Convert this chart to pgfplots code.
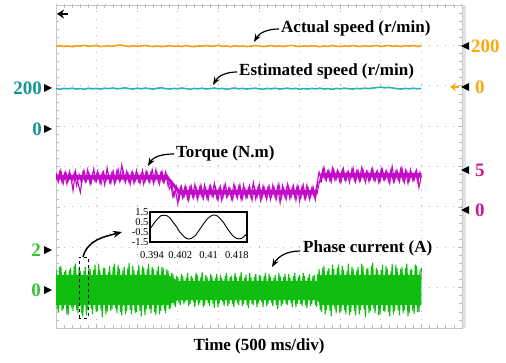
\documentclass[border=0pt]{standalone}
\usepackage{pgfplots}
\pgfplotsset{compat=1.18}
\usepackage{fontspec}
\setmainfont{Liberation Serif}
\usetikzlibrary{arrows.meta}
\definecolor{orT}{RGB}{245,160,20}
\definecolor{orL}{RGB}{250,170,10}
\definecolor{teT}{RGB}{40,180,180}
\definecolor{teL}{RGB}{20,150,150}
\definecolor{maT}{RGB}{195,10,200}
\definecolor{maL}{RGB}{215,20,145}
\definecolor{grT}{RGB}{15,190,15}
\definecolor{grL}{RGB}{55,195,55}
\begin{document}
\begin{tikzpicture}[x=1pt,y=1pt]
\path[use as bounding box] (0,0) rectangle (506,362);
\pgfplotsset{chan/.style={at={(56pt,34pt)},anchor=south west,scale only axis,
  width=406pt,height=323pt,xmin=0,xmax=5,axis lines=none,ticks=none}}
% ---- frame and grid
\begin{axis}[at={(56pt,34pt)},anchor=south west,scale only axis,width=406pt,height=323pt,
  xmin=0,xmax=5,ymin=0,ymax=8,
  xtick={0,0.5,...,5},ytick={0,1,...,8},minor x tick num=4,minor y tick num=4,
  xticklabels={},yticklabels={},
  axis line style={gray!45,line width=0.8pt},
  grid=major,major grid style={gray!55,line width=1pt,dash pattern=on 1pt off 7.1pt},
  tick align=inside,major tick length=4pt,minor tick length=3pt,
  every tick/.style={gray!55,line width=0.6pt}]
\end{axis}
\draw[gray!22,line width=3pt] (464,34)--(464,357);
% ---- actual speed
\begin{axis}[chan,ymin=-1196.2,ymax=403.8]
\addplot[orT,line width=1.6pt] coordinates {
(0,199)(0.05,202)(0.1,198)(0.15,201)(0.2,197)(0.25,202)(0.3,200)(0.35,204)(0.4,199)(0.45,201)
(0.5,203)(0.55,198)(0.6,200)(0.65,202)(0.7,199)(0.75,204)(0.8,205)(0.85,201)(0.9,198)(0.95,202)
(1.0,199)(1.05,201)(1.1,203)(1.15,200)(1.2,198)(1.25,201)(1.3,197)(1.35,200)(1.4,202)(1.45,199)
(1.5,201)(1.55,198)(1.6,203)(1.65,199)(1.7,197)(1.75,201)(1.8,200)(1.85,203)(1.9,199)(1.95,201)
(2.0,204)(2.05,199)(2.1,201)(2.15,197)(2.2,202)(2.25,199)(2.3,201)(2.35,198)(2.4,200)(2.45,203)
(2.5,201)(2.55,198)(2.6,200)(2.65,203)(2.7,199)(2.75,201)(2.8,198)(2.85,202)(2.9,204)(2.95,200)
(3.0,198)(3.05,201)(3.1,199)(3.15,202)(3.2,200)(3.25,197)(3.3,201)(3.35,199)(3.4,203)(3.45,200)
(3.5,198)(3.55,201)(3.6,199)(3.65,203)(3.7,200)(3.75,198)(3.8,202)(3.85,199)(3.9,201)(3.95,203)
(4.0,198)(4.05,201)(4.1,203)(4.15,199)(4.2,201)(4.25,198)(4.3,202)(4.35,200)(4.4,203)(4.45,199)
(4.5,201)};
\end{axis}
% ---- estimated speed
\begin{axis}[chan,ymin=-985.8,ymax=614.2]
\addplot[teT,line width=1.6pt] coordinates {
(0,200)(0.05,197)(0.1,201)(0.15,199)(0.2,202)(0.25,198)(0.3,200)(0.35,197)(0.4,202)(0.45,199)
(0.5,201)(0.55,198)(0.6,202)(0.65,200)(0.7,203)(0.75,199)(0.8,201)(0.85,204)(0.9,200)(0.95,198)
(1.0,202)(1.05,199)(1.1,203)(1.15,200)(1.2,198)(1.25,202)(1.3,204)(1.35,200)(1.4,198)(1.45,201)
(1.5,199)(1.55,203)(1.6,200)(1.65,197)(1.7,201)(1.75,199)(1.8,202)(1.85,198)(1.9,200)(1.95,203)
(2.0,199)(2.05,201)(2.1,197)(2.15,200)(2.2,203)(2.25,199)(2.3,201)(2.35,198)(2.4,200)(2.45,202)
(2.5,199)(2.55,197)(2.6,201)(2.65,199)(2.7,202)(2.75,198)(2.8,200)(2.85,202)(2.9,199)(2.95,201)
(3.0,197)(3.05,200)(3.1,198)(3.15,201)(3.2,199)(3.25,202)(3.3,198)(3.35,200)(3.4,197)(3.45,201)
(3.5,199)(3.55,202)(3.6,200)(3.65,198)(3.7,201)(3.75,199)(3.8,202)(3.85,200)(3.9,203)(3.95,205)
(4.0,207)(4.05,204)(4.1,206)(4.15,203)(4.2,200)(4.25,198)(4.3,201)(4.35,199)(4.4,202)(4.45,199)
(4.5,201)};
\end{axis}
% ---- torque
\begin{axis}[chan,ymin=-14.61,ymax=25.39]
\addplot[maT,fill=maT,draw=none] coordinates {
(0,4.35)(1.37,4.35)(1.52,2.5)(3.22,2.5)(3.26,4.6)(4.5,4.6)
(4.5,4.0)(3.26,4.0)(3.22,1.9)(1.52,1.9)(1.37,3.75)(0,3.75)} -- cycle;
\addplot[maT,line width=1.1pt] coordinates {
(0,4.6)(0.03,3.5)(0.06,4.9)(0.09,3.3)(0.12,4.7)(0.15,3.6)(0.18,4.4)(0.21,2.4)(0.24,4.8)(0.27,3.4)
(0.30,2.2)(0.33,4.6)(0.36,3.5)(0.39,5.0)(0.42,3.2)(0.45,4.5)(0.48,3.6)(0.51,4.8)(0.54,3.4)(0.57,4.6)
(0.60,3.1)(0.63,5.2)(0.66,3.5)(0.69,4.7)(0.72,3.3)(0.75,4.9)(0.78,3.6)(0.81,5.6)(0.84,3.7)(0.87,4.8)
(0.90,3.4)(0.93,4.6)(0.96,3.3)(0.99,4.9)(1.02,3.5)(1.05,4.5)(1.08,3.2)(1.11,4.8)(1.14,3.6)(1.17,4.7)
(1.20,3.3)(1.23,5.0)(1.26,3.5)(1.29,4.6)(1.32,3.4)(1.35,4.7)(1.38,3.0)(1.41,3.4)(1.44,1.6)(1.47,2.5)
(1.50,0.8)(1.53,2.8)(1.56,1.5)(1.59,3.0)(1.62,1.4)(1.65,2.9)(1.68,1.7)(1.71,3.2)(1.74,1.3)(1.77,2.8)
(1.80,1.6)(1.83,3.1)(1.86,1.4)(1.89,2.9)(1.92,1.8)(1.95,3.3)(1.98,1.5)(2.01,2.7)(2.04,1.2)(2.07,3.0)
(2.10,1.6)(2.13,2.8)(2.16,1.4)(2.19,3.2)(2.22,1.7)(2.25,2.9)(2.28,1.3)(2.31,3.1)(2.34,1.5)(2.37,2.7)
(2.40,1.6)(2.43,3.4)(2.46,1.4)(2.49,2.9)(2.52,1.2)(2.55,3.0)(2.58,1.7)(2.61,2.8)(2.64,1.3)(2.67,3.1)
(2.70,1.5)(2.73,2.9)(2.76,0.9)(2.79,3.0)(2.82,1.6)(2.85,3.2)(2.88,1.4)(2.91,2.8)(2.94,1.6)(2.97,3.0)
(3.00,1.1)(3.03,2.9)(3.06,1.5)(3.09,3.1)(3.12,1.3)(3.15,2.7)(3.18,1.6)(3.21,3.0)(3.24,4.7)(3.27,3.6)
(3.30,5.3)(3.33,3.7)(3.36,4.9)(3.39,3.5)(3.42,5.0)(3.45,3.8)(3.48,4.7)(3.51,3.4)(3.54,5.1)(3.57,3.6)
(3.60,4.8)(3.63,3.9)(3.66,5.2)(3.69,3.5)(3.72,4.9)(3.75,3.7)(3.78,5.0)(3.81,3.4)(3.84,4.7)(3.87,3.8)
(3.90,5.1)(3.93,3.6)(3.96,4.8)(3.99,3.5)(4.02,5.0)(4.05,3.7)(4.08,4.6)(4.11,3.3)(4.14,5.4)(4.17,3.6)
(4.20,4.9)(4.23,3.5)(4.26,5.2)(4.29,3.4)(4.32,4.8)(4.35,3.6)(4.38,4.6)(4.41,3.7)(4.44,4.9)(4.47,2.8)
(4.50,4.3)};
\addplot[maT,line width=1.1pt] coordinates {
(0.015,3.6)(0.045,4.7)(0.075,3.4)(0.105,4.5)(0.135,3.2)(0.165,4.8)(0.195,3.5)(0.225,4.6)(0.255,3.0)(0.285,4.4)
(0.315,3.3)(0.345,4.9)(0.375,3.6)(0.405,4.6)(0.435,3.4)(0.465,5.1)(0.495,3.5)(0.525,4.5)(0.555,3.2)(0.585,4.7)
(0.615,3.6)(0.645,4.4)(0.675,3.3)(0.705,4.8)(0.735,3.5)(0.765,5.0)(0.795,3.7)(0.825,4.9)(0.855,3.4)(0.885,4.6)
(0.915,3.2)(0.945,4.7)(0.975,3.6)(1.005,4.5)(1.035,3.3)(1.065,4.9)(1.095,3.5)(1.125,4.6)(1.155,3.4)(1.185,5.0)
(1.215,3.6)(1.245,4.5)(1.275,3.2)(1.305,4.8)(1.335,3.5)(1.365,4.4)(1.395,2.6)(1.425,3.2)(1.455,1.7)(1.485,2.9)
(1.515,1.3)(1.545,2.9)(1.575,1.6)(1.605,2.7)(1.635,1.2)(1.665,3.0)(1.695,1.5)(1.725,2.8)(1.755,1.7)(1.785,3.1)
(1.815,1.4)(1.845,2.7)(1.875,1.3)(1.905,3.0)(1.935,1.6)(1.965,2.8)(1.995,1.2)(2.025,2.9)(2.055,1.5)(2.085,3.2)
(2.115,1.7)(2.145,2.6)(2.175,1.3)(2.205,2.9)(2.235,1.5)(2.265,3.1)(2.295,1.4)(2.325,2.7)(2.355,1.6)(2.385,3.0)
(2.415,1.2)(2.445,2.8)(2.475,1.6)(2.505,3.1)(2.535,1.4)(2.565,2.7)(2.595,1.3)(2.625,3.0)(2.655,1.7)(2.685,2.8)
(2.715,1.4)(2.745,3.2)(2.775,1.5)(2.805,2.7)(2.835,1.3)(2.865,2.9)(2.895,1.6)(2.925,3.0)(2.955,1.2)(2.985,2.8)
(3.015,1.5)(3.045,3.1)(3.075,1.4)(3.105,2.7)(3.135,1.6)(3.165,2.9)(3.195,1.3)(3.225,3.4)
(3.255,3.5)(3.285,5.0)(3.315,3.8)(3.345,4.8)(3.375,3.6)(3.405,5.2)(3.435,3.7)(3.465,4.9)(3.495,3.5)(3.525,5.0)
(3.555,3.8)(3.585,4.7)(3.615,3.4)(3.645,5.1)(3.675,3.7)(3.705,4.9)(3.735,3.6)(3.765,5.3)(3.795,3.8)(3.825,4.8)
(3.855,3.5)(3.885,5.0)(3.915,3.7)(3.945,4.7)(3.975,3.4)(4.005,5.1)(4.035,3.8)(4.065,4.9)(4.095,3.6)(4.125,5.0)
(4.155,3.5)(4.185,4.8)(4.215,3.7)(4.245,5.1)(4.275,3.6)(4.305,4.9)(4.335,3.3)(4.365,5.0)(4.395,3.6)(4.425,4.7)
(4.455,3.5)(4.485,4.8)};
\end{axis}
% ---- phase current
\begin{axis}[chan,ymin=-1.882,ymax=14.118]
\addplot[grT,fill=grT,draw=none] coordinates {
(0,0.75)(1.38,0.75)(1.5,0.45)(3.22,0.45)(3.26,0.75)(4.5,0.75)
(4.5,-0.75)(3.26,-0.75)(3.22,-0.5)(1.5,-0.5)(1.38,-0.75)(0,-0.75)} -- cycle;
\addplot[grT,line width=1pt] coordinates {
(0,1.05)(0.03,-1.10)(0.06,1.20)(0.09,-0.95)(0.12,1.00)(0.15,-1.25)(0.18,1.10)(0.21,-1.05)(0.24,1.30)(0.27,-1.15)
(0.30,0.95)(0.33,-1.30)(0.36,1.15)(0.39,-1.00)(0.42,1.05)(0.45,-1.20)(0.48,1.25)(0.51,-1.05)(0.54,1.00)(0.57,-1.35)
(0.60,1.10)(0.63,-1.10)(0.66,1.20)(0.69,-0.95)(0.72,1.30)(0.75,-1.15)(0.78,1.05)(0.81,-1.25)(0.84,1.15)(0.87,-1.05)
(0.90,1.35)(0.93,-1.20)(0.96,1.00)(0.99,-1.10)(1.02,1.25)(1.05,-1.30)(1.08,1.10)(1.11,-1.00)(1.14,1.30)(1.17,-1.15)
(1.20,1.05)(1.23,-1.25)(1.26,1.20)(1.29,-1.05)(1.32,1.10)(1.35,-1.15)(1.38,0.95)(1.41,-0.90)(1.44,0.80)(1.47,-0.85)
(1.50,0.65)(1.53,-0.75)(1.56,0.70)(1.59,-0.60)(1.62,0.85)(1.65,-0.70)(1.68,0.60)(1.71,-0.85)(1.74,0.75)(1.77,-0.65)
(1.80,0.90)(1.83,-0.75)(1.86,0.65)(1.89,-0.80)(1.92,0.70)(1.95,-0.90)(1.98,0.80)(2.01,-0.65)(2.04,0.60)(2.07,-0.80)
(2.10,0.85)(2.13,-0.70)(2.16,0.70)(2.19,-0.85)(2.22,0.65)(2.25,-0.75)(2.28,0.90)(2.31,-0.70)(2.34,0.75)(2.37,-0.90)
(2.40,0.65)(2.43,-0.75)(2.46,0.80)(2.49,-0.65)(2.52,0.70)(2.55,-0.85)(2.58,0.85)(2.61,-0.70)(2.64,0.65)(2.67,-0.80)
(2.70,0.75)(2.73,-0.95)(2.76,0.70)(2.79,-0.70)(2.82,0.80)(2.85,-0.75)(2.88,0.65)(2.91,-0.85)(2.94,0.85)(2.97,-0.70)
(3.00,0.75)(3.03,-0.80)(3.06,0.70)(3.09,-0.90)(3.12,0.80)(3.15,-0.70)(3.18,0.75)(3.21,-0.85)(3.24,1.05)(3.27,-1.10)
(3.30,1.20)(3.33,-1.00)(3.36,1.10)(3.39,-1.30)(3.42,1.05)(3.45,-1.15)(3.48,1.25)(3.51,-1.05)(3.54,1.00)(3.57,-1.20)
(3.60,1.30)(3.63,-1.10)(3.66,1.05)(3.69,-1.25)(3.72,1.15)(3.75,-1.00)(3.78,1.20)(3.81,-1.35)(3.84,1.10)(3.87,-1.05)
(3.90,1.35)(3.93,-1.15)(3.96,1.00)(3.99,-1.20)(4.02,1.25)(4.05,-1.10)(4.08,1.05)(4.11,-1.30)(4.14,1.30)(4.17,-1.05)
(4.20,1.10)(4.23,-1.25)(4.26,1.15)(4.29,-1.00)(4.32,1.30)(4.35,-1.15)(4.38,1.05)(4.41,-1.20)(4.44,1.20)(4.47,-1.10)
(4.50,1.10)};
\addplot[grT,line width=1pt] coordinates {
(0.015,-0.95)(0.045,1.15)(0.075,-1.05)(0.105,0.90)(0.135,-1.20)(0.165,1.00)(0.195,-0.90)(0.225,1.20)(0.255,-1.00)(0.285,1.10)
(0.315,-1.15)(0.345,0.95)(0.375,-1.25)(0.405,1.15)(0.435,-0.95)(0.465,1.00)(0.495,-1.10)(0.525,1.30)(0.555,-1.00)(0.585,1.10)
(0.615,-1.20)(0.645,0.90)(0.675,-1.05)(0.705,1.15)(0.735,-0.90)(0.765,1.25)(0.795,-1.10)(0.825,1.00)(0.855,-1.20)(0.885,1.10)
(0.915,-1.00)(0.945,1.20)(0.975,-1.15)(1.005,0.95)(1.035,-1.05)(1.065,1.20)(1.095,-1.25)(1.125,1.05)(1.155,-0.95)(1.185,1.15)
(1.215,-1.10)(1.245,1.00)(1.275,-1.20)(1.305,1.15)(1.335,-1.00)(1.365,1.05)(1.395,-0.95)(1.425,0.85)(1.455,-0.75)(1.485,0.70)
(1.515,-0.65)(1.545,0.80)(1.575,-0.70)(1.605,0.60)(1.635,-0.80)(1.665,0.70)(1.695,-0.60)(1.725,0.85)(1.755,-0.75)(1.785,0.65)
(1.815,-0.85)(1.845,0.75)(1.875,-0.65)(1.905,0.80)(1.935,-0.70)(1.965,0.60)(1.995,-0.85)(2.025,0.75)(2.055,-0.60)(2.085,0.70)
(2.115,-0.80)(2.145,0.65)(2.175,-0.70)(2.205,0.85)(2.235,-0.65)(2.265,0.70)(2.295,-0.80)(2.325,0.60)(2.355,-0.75)(2.385,0.85)
(2.415,-0.70)(2.445,0.65)(2.475,-0.85)(2.505,0.75)(2.535,-0.60)(2.565,0.70)(2.595,-0.80)(2.625,0.80)(2.655,-0.65)(2.685,0.60)
(2.715,-0.75)(2.745,0.85)(2.775,-0.80)(2.805,0.65)(2.835,-0.70)(2.865,0.80)(2.895,-0.65)(2.925,0.70)(2.955,-0.85)(2.985,0.65)
(3.015,-0.70)(3.045,0.85)(3.075,-0.75)(3.105,0.65)(3.135,-0.80)(3.165,0.70)(3.195,-0.75)(3.225,0.80)
(3.255,-1.00)(3.285,1.10)(3.315,-1.20)(3.345,0.95)(3.375,-1.05)(3.405,1.25)(3.435,-0.95)(3.465,1.10)(3.495,-1.15)(3.525,1.20)
(3.555,-1.00)(3.585,0.95)(3.615,-1.25)(3.645,1.15)(3.675,-1.05)(3.705,1.00)(3.735,-1.20)(3.765,1.30)(3.795,-1.00)(3.825,1.05)
(3.855,-1.15)(3.885,1.20)(3.915,-0.95)(3.945,1.10)(3.975,-1.25)(4.005,1.00)(4.035,-1.05)(4.065,1.20)(4.095,-1.10)(4.125,0.95)
(4.155,-1.20)(4.185,1.25)(4.215,-1.00)(4.245,1.05)(4.275,-1.15)(4.305,1.10)(4.335,-1.30)(4.365,1.00)(4.395,-1.05)(4.425,1.25)
(4.455,-1.10)(4.485,1.05)};
\end{axis}
% ---- inset
\begin{axis}[at={(150pt,120pt)},anchor=south west,scale only axis,width=97pt,height=30pt,
  xmin=0.39343,xmax=0.42086,ymin=-1.5,ymax=1.5,
  axis line style={black,line width=1.5pt},
  xtick={0.394,0.402,0.41,0.418},xticklabels={0.394,0.402,0.41,0.418},
  ytick={-1.5,-0.5,0.5,1.5},yticklabels={-1.5,-0.5,0.5,1.5},
  tick style={draw=none},
  /pgf/number format/assume math mode=true,
  ticklabel style={font=\fontsize{10.5}{10.5}\selectfont},
  xticklabel style={yshift=-6pt},
  yticklabel style={xshift=2pt}]
\addplot[black,line width=0.9pt] coordinates {
(0.39343,-0.22)(0.39386,0.02)(0.39474,0.48)(0.39563,0.83)(0.39651,1.13)(0.39739,1.18)(0.39828,1.12)
(0.39916,0.87)(0.40004,0.44)(0.40093,0.03)(0.40181,-0.48)(0.40269,-0.83)(0.40358,-1.12)(0.40446,-1.21)
(0.40534,-1.09)(0.40623,-0.86)(0.40711,-0.44)(0.40799,0.02)(0.40888,0.47)(0.40976,0.86)(0.41064,1.10)
(0.41153,1.21)(0.41241,1.12)(0.41329,0.84)(0.41418,0.47)(0.41506,-0.02)(0.41594,-0.46)(0.41683,-0.87)
(0.41771,-1.11)(0.41859,-1.19)(0.41948,-1.12)(0.42036,-0.84)(0.42086,-0.65)};
\end{axis}
% ---- channel markers
\newcommand\lmark[1]{\fill (52,#1) -- (44,#1+4) -- (44,#1-4) -- cycle;}
\newcommand\rmark[1]{\fill (461,#1) -- (469,#1+4) -- (469,#1-4) -- cycle;}
\lmark{274}\lmark{233}\lmark{112}\lmark{72}
\rmark{316}\rmark{275}\rmark{192}\rmark{152}
\tikzset{num/.style={font=\bfseries\fontsize{19}{19}\selectfont,inner sep=0pt}}
\node[num,anchor=east,text=teL] at (42,274) {200};
\node[num,anchor=east,text=teL] at (42,233) {0};
\node[num,anchor=east,text=grL] at (41,112) {2};
\node[num,anchor=east,text=grL] at (41,72) {0};
\node[num,anchor=west,text=orL] at (471,316) {200};
\node[num,anchor=west,text=orL] at (475,275) {0};
\node[num,anchor=west,text=maL] at (475,192) {5};
\node[num,anchor=west,text=maL] at (475,152) {0};
\draw[orL,line width=1.8pt,-{Stealth[length=6pt,width=8pt]}] (459,275) -- (450,275);
\draw[black,line width=2pt,-{Stealth[length=7pt,width=9pt]}] (68,348) -- (57,348);
% ---- annotations
\tikzset{ann/.style={font=\bfseries\fontsize{17}{17}\selectfont,inner sep=0pt,anchor=west},
  arr/.style={line width=1.2pt,-{Stealth[length=8pt,width=6pt]}}}
\node[ann] at (281,334) {Actual speed (r/min)};
\draw[arr] (279,333) to[out=180,in=60] (254,320);
\node[ann] at (239,291) {Estimated speed (r/min)};
\draw[arr] (237,290) to[out=180,in=60] (213,277);
\node[ann] at (176,209) {Torque (N.m)};
\draw[arr] (174,208) to[out=180,in=60] (148,196);
\node[ann] at (303,114) {Phase current (A)};
\draw[arr] (300,111) to[out=180,in=60] (272,95);
\draw[dashed,line width=0.8pt] (79,44) rectangle (88,105);
\draw[line width=1.5pt,-{Stealth[length=9pt,width=7pt]}] (83,105) to[out=75,in=195] (122,130);
\node[font=\bfseries\fontsize{17}{17}\selectfont] at (259,16) {Time (500 ms/div)};
\end{tikzpicture}
\end{document}
